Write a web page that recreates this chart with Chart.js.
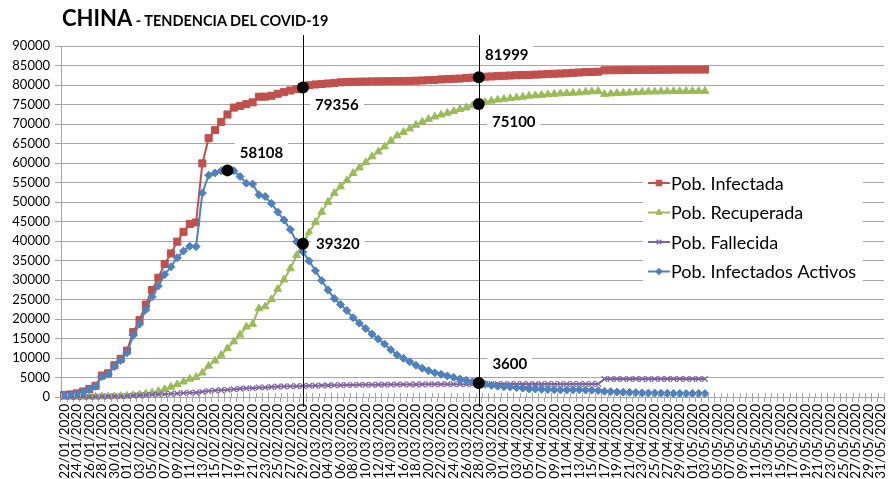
<!DOCTYPE html>
<html>
<head>
<meta charset="utf-8">
<script src="https://cdn.jsdelivr.net/npm/chart.js@4.4.1/dist/chart.umd.min.js"></script>
<style>
  html, body { margin: 0; padding: 0; background: #fff; overflow: hidden; }
  #wrap { position: relative; width: 890px; height: 479px; }
  #title { position: absolute; left: 62px; top: 4px; font-family: Lato, "Open Sans", sans-serif; font-weight: 700; color: #000; white-space: nowrap; }
  #title .big { font-size: 22px; }
  #title .small { font-size: 14.5px; }
  canvas { position: absolute; left: 0; top: 0; }
</style>
</head>
<body>
<div id="wrap">
  <canvas id="c" width="890" height="479"></canvas>
  <div id="title"><span class="big">CHINA</span><span class="small"> - TENDENCIA DEL COVID-19</span></div>
</div>
<script>
// Daily dates, 22/01/2020 – 31/05/2020
const fechas = [
  "22/01/2020","23/01/2020","24/01/2020","25/01/2020","26/01/2020","27/01/2020","28/01/2020","29/01/2020","30/01/2020","31/01/2020",
  "01/02/2020","02/02/2020","03/02/2020","04/02/2020","05/02/2020","06/02/2020","07/02/2020","08/02/2020","09/02/2020","10/02/2020",
  "11/02/2020","12/02/2020","13/02/2020","14/02/2020","15/02/2020","16/02/2020","17/02/2020","18/02/2020","19/02/2020","20/02/2020",
  "21/02/2020","22/02/2020","23/02/2020","24/02/2020","25/02/2020","26/02/2020","27/02/2020","28/02/2020","29/02/2020",
  "01/03/2020","02/03/2020","03/03/2020","04/03/2020","05/03/2020","06/03/2020","07/03/2020","08/03/2020","09/03/2020","10/03/2020",
  "11/03/2020","12/03/2020","13/03/2020","14/03/2020","15/03/2020","16/03/2020","17/03/2020","18/03/2020","19/03/2020","20/03/2020",
  "21/03/2020","22/03/2020","23/03/2020","24/03/2020","25/03/2020","26/03/2020","27/03/2020","28/03/2020","29/03/2020","30/03/2020","31/03/2020",
  "01/04/2020","02/04/2020","03/04/2020","04/04/2020","05/04/2020","06/04/2020","07/04/2020","08/04/2020","09/04/2020","10/04/2020",
  "11/04/2020","12/04/2020","13/04/2020","14/04/2020","15/04/2020","16/04/2020","17/04/2020","18/04/2020","19/04/2020","20/04/2020",
  "21/04/2020","22/04/2020","23/04/2020","24/04/2020","25/04/2020","26/04/2020","27/04/2020","28/04/2020","29/04/2020","30/04/2020",
  "01/05/2020","02/05/2020","03/05/2020","04/05/2020","05/05/2020","06/05/2020","07/05/2020","08/05/2020","09/05/2020","10/05/2020",
  "11/05/2020","12/05/2020","13/05/2020","14/05/2020","15/05/2020","16/05/2020","17/05/2020","18/05/2020","19/05/2020","20/05/2020",
  "21/05/2020","22/05/2020","23/05/2020","24/05/2020","25/05/2020","26/05/2020","27/05/2020","28/05/2020","29/05/2020","30/05/2020","31/05/2020"
];

// Accumulated cases (22/01 – 03/05)
const infectada = [
  548,643,920,1406,2075,2877,5509,6087,8141,9802,
  11891,16630,19716,23707,27440,30587,34110,36814,39829,42354,
  44386,44759,59895,66358,68413,70513,72434,74211,74619,75077,
  75550,77001,77022,77241,77754,78166,78600,78928,79356,
  79932,80136,80261,80386,80537,80690,80770,80823,80860,80887,
  80921,80932,80945,80977,81003,81033,81058,81102,81156,81250,
  81305,81435,81498,81591,81661,81782,81897,81999,82122,82198,82279,
  82361,82432,82511,82543,82602,82665,82718,82809,82883,82941,
  83014,83134,83213,83306,83356,83403,83760,83787,83805,83817,
  83853,83868,83884,83899,83909,83912,83918,83940,83944,83956,
  83959,83959,83964
];

const recuperada = [
  28,30,36,39,49,58,101,120,135,214,
  275,463,614,843,1115,1476,1998,2595,3218,3918,
  4636,5082,6217,7977,9298,10755,12462,14206,15962,18014,
  18704,22699,23187,25015,27676,30084,32930,36329,39320,
  42162,44854,47450,50001,52292,53944,55539,57388,58804,60181,
  61644,62901,64196,65660,67017,67910,68798,69755,70535,71266,
  71857,72362,72814,73280,73773,74181,74720,75100,75582,75923,76206,
  76405,76565,76760,76946,77207,77310,77410,77567,77679,77791,
  77877,77956,78039,78200,78311,78401,77663,77781,77878,77956,
  78022,78105,78201,78250,78278,78311,78342,78374,78395,78413,
  78424,78430,78451
];

const fallecida = [
  17,18,26,42,56,82,131,133,171,213,
  259,361,425,490,562,632,717,804,904,1011,
  1111,1116,1368,1520,1662,1765,1863,2002,2114,2236,
  2236,2441,2443,2593,2663,2715,2744,2788,2835,
  2870,2912,2943,2981,3012,3042,3070,3097,3119,3136,
  3158,3169,3176,3189,3199,3213,3226,3237,3245,3249,
  3253,3259,3274,3274,3281,3285,3291,3296,3299,3304,3308,
  3309,3316,3322,3326,3330,3333,3335,3335,3337,3339,
  3339,3341,3341,3342,3342,3342,4632,4632,4632,4632,
  4636,4636,4636,4636,4636,4637,4637,4637,4637,4637,
  4637,4637,4637
];

const activos = [
  503,595,858,1325,1970,2737,5277,5834,7835,9375,
  11357,15806,18677,22374,25763,28479,31395,33415,35707,37425,
  38639,38561,52310,56861,57453,57993,58108,58003,56543,54827,
  54610,51861,51392,49633,47415,45367,42926,39811,37201,
  34900,32370,29868,27404,25233,23704,22161,20338,18937,17570,
  16119,14862,13573,12128,10787,9910,9034,8110,7376,6735,
  6195,5814,5410,5037,4607,4316,3886,3600,3241,2971,2765,
  2647,2551,2429,2271,2065,2022,1973,1907,1867,1811,
  1798,1837,1833,1764,1703,1660,1465,1374,1295,1229,
  1195,1127,1047,1013,995,964,939,929,912,906,
  898,892,876
];

const yTicks = [0,5000,10000,15000,20000,25000,30000,35000,40000,45000,50000,55000,60000,65000,70000,75000,80000,85000,90000];

// Highlighted points: dataset index and date, with label offset from the point
const destacados = [
  { ds: 0, fecha: "29/02/2020", dx: 34, dy: 17 },
  { ds: 1, fecha: "29/02/2020", dx: 35, dy: 0 },
  { ds: 3, fecha: "17/02/2020", dx: 34, dy: -18 },
  { ds: 0, fecha: "28/03/2020", dx: 28, dy: -23 },
  { ds: 1, fecha: "28/03/2020", dx: 35, dy: 17 },
  { ds: 3, fecha: "28/03/2020", dx: 31, dy: -20 }
];
const lineasVerticales = ["29/02/2020", "28/03/2020"];

const FONT = 'Lato, "Open Sans", sans-serif';
const GRID = '#a6a6a6';

const serie = (label, data, color, style, radius, order) => ({
  label, data,
  borderColor: color, backgroundColor: color,
  pointBackgroundColor: style === 'crossRot' ? '#ffffff' : color,
  pointBorderColor: color,
  pointStyle: style, pointRadius: radius, pointHoverRadius: radius,
  pointBorderWidth: style === 'crossRot' ? 1.3 : 1, borderWidth: 2, tension: 0, order, clip: false
});

// Vertical reference lines, tick crossings, highlighted points, labels and legend
const decoraciones = {
  id: 'decoraciones',
  afterDatasetsDraw(chart) {
    const ctx = chart.ctx, x = chart.scales.x, y = chart.scales.y;
    const area = chart.chartArea;
    ctx.save();
    // small tick marks crossing up into the plot
    ctx.strokeStyle = GRID; ctx.lineWidth = 1;
    const w = (x.getPixelForValue(1) - x.getPixelForValue(0));
    for (let i = 0; i <= fechas.length; i++) {
      const px = Math.round(x.getPixelForValue(0) - w / 2 + i * w) + 0.5;
      ctx.beginPath(); ctx.moveTo(px, area.bottom - 4); ctx.lineTo(px, area.bottom); ctx.stroke();
    }
    // vertical reference lines
    ctx.strokeStyle = '#000'; ctx.lineWidth = 1;
    lineasVerticales.forEach(f => {
      const px = Math.round(x.getPixelForValue(fechas.indexOf(f))) + 0.5;
      ctx.beginPath(); ctx.moveTo(px, 35); ctx.lineTo(px, area.bottom + 10); ctx.stroke();
    });
    // highlighted points
    destacados.forEach(d => {
      const i = fechas.indexOf(d.fecha);
      const v = chart.data.datasets[d.ds].data[i];
      const px = x.getPixelForValue(i), py = y.getPixelForValue(v);
      ctx.fillStyle = '#000';
      ctx.beginPath(); ctx.arc(px, py, 6, 0, Math.PI * 2); ctx.fill();
    });
    // value labels on white boxes
    ctx.font = 'bold 15px ' + FONT;
    ctx.textAlign = 'center'; ctx.textBaseline = 'middle';
    destacados.forEach(d => {
      const i = fechas.indexOf(d.fecha);
      const v = chart.data.datasets[d.ds].data[i];
      const px = x.getPixelForValue(i) + d.dx, py = y.getPixelForValue(v) + d.dy;
      const txt = String(v);
      const tw = ctx.measureText(txt).width;
      ctx.fillStyle = '#fff';
      ctx.fillRect(px - tw / 2 - 5, py - 10, tw + 10, 20);
      ctx.fillStyle = '#000';
      ctx.fillText(txt, px, py + 1);
    });
    // legend
    const step = 29.5;
    ctx.fillStyle = '#fff';
    ctx.fillRect(643, 166, 220, 122);
    ctx.font = '18px ' + FONT;
    ctx.textAlign = 'left'; ctx.textBaseline = 'middle';
    chart.data.datasets.forEach((ds, k) => {
      const cy = 183 + k * step;
      ctx.strokeStyle = ds.borderColor; ctx.lineWidth = 2;
      ctx.beginPath(); ctx.moveTo(648, cy); ctx.lineTo(670, cy); ctx.stroke();
      ctx.fillStyle = ds.pointBackgroundColor;
      ctx.strokeStyle = ds.borderColor;
      ctx.lineWidth = ds.pointBorderWidth;
      Chart.helpers.drawPoint(ctx, { pointStyle: ds.pointStyle, radius: ds.pointRadius * 0.8, rotation: 0, borderWidth: ds.pointBorderWidth }, 659, cy);
      ctx.fillStyle = '#000';
      ctx.fillText(ds.label, 671, cy + 1);
    });
    ctx.restore();
  }
};

new Chart(document.getElementById('c'), {
  type: 'line',
  data: {
    labels: fechas,
    datasets: [
      serie('Pob. Infectada', infectada, '#C0504D', 'rect', 5, 3),
      serie('Pob. Recuperada', recuperada, '#9BBB59', 'triangle', 4.5, 2),
      serie('Pob. Fallecida', fallecida, '#8064A2', 'crossRot', 4, 1),
      serie('Pob. Infectados Activos', activos, '#4F81BD', 'rectRot', 4, 0)
    ]
  },
  options: {
    responsive: false,
    animation: false,
    events: [],
    layout: { padding: { top: 46, right: 3, left: 0, bottom: 0 } },
    plugins: { legend: { display: false }, tooltip: { enabled: false }, title: { display: false } },
    scales: {
      x: {
        offset: true,
        grid: { offset: true, drawOnChartArea: false, color: GRID, tickLength: 5 },
        border: { color: GRID },
        afterFit(s) { s.height = 479 - 397; s.paddingLeft = 0; s.paddingRight = 0; },
        ticks: {
          autoSkip: false, maxRotation: 90, minRotation: 90, padding: 2,
          color: '#000', font: { family: FONT, size: 13.5 },
          callback(v, i) { return i % 2 === 0 ? fechas[i] : ''; }
        }
      },
      y: {
        min: 0, max: 90000,
        afterBuildTicks(s) { s.ticks = yTicks.map(v => ({ value: v })); },
        afterFit(s) { s.width = 61; },
        grid: { color: GRID, tickLength: 6 },
        border: { color: GRID },
        ticks: { color: '#000', padding: 5, font: { family: FONT, size: 13 }, callback: v => String(v) }
      }
    }
  },
  plugins: [decoraciones]
});
</script>
</body>
</html>
